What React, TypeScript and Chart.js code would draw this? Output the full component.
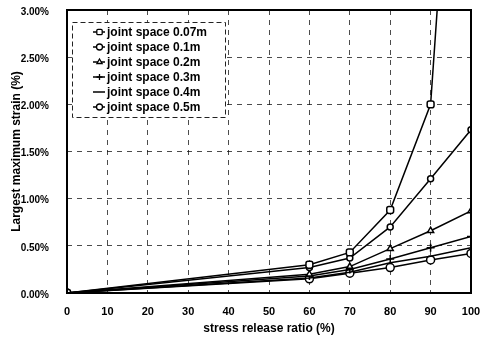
import React, { useEffect, useRef } from 'react';
import { Chart, registerables } from 'chart.js';

Chart.register(...registerables);

const xValues = [0, 60, 70, 80, 90, 100];
const seriesLabels = [
  'joint space 0.07m',
  'joint space 0.1m',
  'joint space 0.2m',
  'joint space 0.3m',
  'joint space 0.4m',
  'joint space 0.5m',
];
const s007 = [0, 0.3, 0.43, 0.88, 2.0, 8.15];
const s01 = [0, 0.27, 0.37, 0.7, 1.21, 1.73];
const s02 = [0, 0.2, 0.28, 0.47, 0.66, 0.87];
const s03 = [0, 0.18, 0.25, 0.36, 0.48, 0.6];
const s04 = [0, 0.16, 0.22, 0.32, 0.39, 0.48];
const s05 = [0, 0.15, 0.21, 0.27, 0.35, 0.42];
const yTickStep = 0.5;
const yMax = 3.0;
const xTickStep = 10;
const xMax = 100;

const pointStyles: any[] = ['rectRounded', 'circle', 'triangle', 'cross', false, 'circle'];
const pointRadii = [4, 3, 3.5, 4, 0, 4];

const narrowFamily = "'Liberation Sans Narrow', 'Liberation Sans', Arial, sans-serif";
const xTickFont: any = { family: narrowFamily, size: 11, weight: 'bold' };
const yTickFont: any = { family: narrowFamily, size: 10, weight: 'bold' };
const titleFont = { family: "'Liberation Sans', Arial, sans-serif", size: 12, weight: 'bold' as const };

function drawMarker(ctx: CanvasRenderingContext2D, style: any, x: number, y: number, r: number) {
  if (!style || r <= 0) return;
  ctx.save();
  ctx.fillStyle = '#fff';
  ctx.strokeStyle = '#000';
  ctx.lineWidth = 1.3;
  ctx.beginPath();
  if (style === 'circle') {
    ctx.arc(x, y, r, 0, Math.PI * 2);
    ctx.fill();
    ctx.stroke();
  } else if (style === 'rectRounded') {
    const s = r * 1.8;
    ctx.roundRect(x - s / 2, y - s / 2, s, s, r * 0.4);
    ctx.fill();
    ctx.stroke();
  } else if (style === 'triangle') {
    ctx.moveTo(x, y - r);
    ctx.lineTo(x + r * 0.87, y + r * 0.5);
    ctx.lineTo(x - r * 0.87, y + r * 0.5);
    ctx.closePath();
    ctx.fill();
    ctx.stroke();
  } else if (style === 'cross') {
    ctx.moveTo(x, y - r);
    ctx.lineTo(x, y + r);
    ctx.moveTo(x - r, y);
    ctx.lineTo(x + r, y);
    ctx.stroke();
  }
  ctx.restore();
}

const framePlugin = {
  id: 'frameAndLegend',
  afterDraw(chart: any) {
    const { ctx, chartArea } = chart;
    ctx.save();
    ctx.strokeStyle = '#000';
    ctx.lineWidth = 2;
    ctx.strokeRect(chartArea.left, chartArea.top, chartArea.right - chartArea.left, chartArea.bottom - chartArea.top);

    // legend box
    const lx = chartArea.left + 5;
    const ly = chartArea.top + 12;
    const lw = 153;
    const lh = 95;
    ctx.fillStyle = '#fff';
    ctx.fillRect(lx, ly, lw, lh);
    ctx.setLineDash([5, 3]);
    ctx.lineWidth = 1;
    ctx.strokeStyle = '#222';
    ctx.strokeRect(lx + 0.5, ly + 0.5, lw, lh);
    ctx.setLineDash([]);
    ctx.font = "bold 12px 'Liberation Sans', Arial, sans-serif";
    ctx.textBaseline = 'middle';
    ctx.textAlign = 'left';
    chart.data.datasets.forEach((ds: any, i: number) => {
      const y = ly + 10 + i * 15;
      ctx.strokeStyle = '#000';
      ctx.lineWidth = 1.5;
      ctx.beginPath();
      ctx.moveTo(lx + 21, y);
      ctx.lineTo(lx + 33, y);
      ctx.stroke();
      drawMarker(ctx, pointStyles[i], lx + 27.5, y, Math.min(pointRadii[i], 3));
      ctx.fillStyle = '#000';
      ctx.fillText(ds.label, lx + 35, y + 0.5);
    });
    ctx.restore();
  },
};

export default function App() {
  const ref = useRef<HTMLCanvasElement>(null);
  useEffect(() => {
    if (!ref.current) return;
    const seriesValues = [s007, s01, s02, s03, s04, s05];
    const chart = new Chart(ref.current, {
      type: 'line',
      data: {
        datasets: seriesValues.map((vals, i) => ({
          label: seriesLabels[i],
          data: xValues.map((x, j) => ({ x, y: vals[j] })),
          borderColor: '#000',
          backgroundColor: '#fff',
          borderWidth: 1.5,
          pointStyle: pointStyles[i],
          pointRadius: pointRadii[i],
          pointBorderWidth: 1.5,
          pointBorderColor: '#000',
          pointBackgroundColor: '#fff',
          tension: 0,
        })),
      },
      options: {
        animation: false,
        responsive: true,
        maintainAspectRatio: false,
        layout: { padding: { top: 10, right: 9, left: 0, bottom: 0 } },
        plugins: { legend: { display: false }, tooltip: { enabled: false } },
        scales: {
          x: {
            type: 'linear',
            min: 0,
            max: xMax,
            afterFit: (s: any) => { s.height = 44; s.paddingLeft = 0; s.paddingRight = 0; },
            ticks: { stepSize: xTickStep, color: '#000', font: xTickFont, padding: 12, maxRotation: 0 },
            grid: { color: 'rgba(0,0,0,0.7)', drawTicks: false, lineWidth: 1 },
            border: { display: false, dash: [5, 5] },
            title: { display: true, text: 'stress release ratio (%)', color: '#000', font: titleFont, padding: { top: 0, bottom: 1 } },
          },
          y: {
            min: 0,
            max: yMax,
            afterFit: (s: any) => { s.width = 59; s.paddingTop = 0; s.paddingBottom = 0; },
            ticks: {
              stepSize: yTickStep,
              color: '#000',
              font: yTickFont,
              padding: 18,
              labelOffset: 2,
              callback: (v: any) => Number(v).toFixed(2) + '%',
            },
            grid: { color: 'rgba(0,0,0,0.7)', drawTicks: false, lineWidth: 1 },
            border: { display: false, dash: [5, 5] },
            title: { display: true, text: 'Largest maximum strain (%)', color: '#000', font: titleFont, padding: { top: 1, bottom: 0 } },
          },
        },
      },
      plugins: [framePlugin],
    });
    return () => chart.destroy();
  }, []);
  return (
    <div style={{ position: 'absolute', left: 8, top: 0, width: 472, height: 337 }}>
      <canvas ref={ref} />
    </div>
  );
}
